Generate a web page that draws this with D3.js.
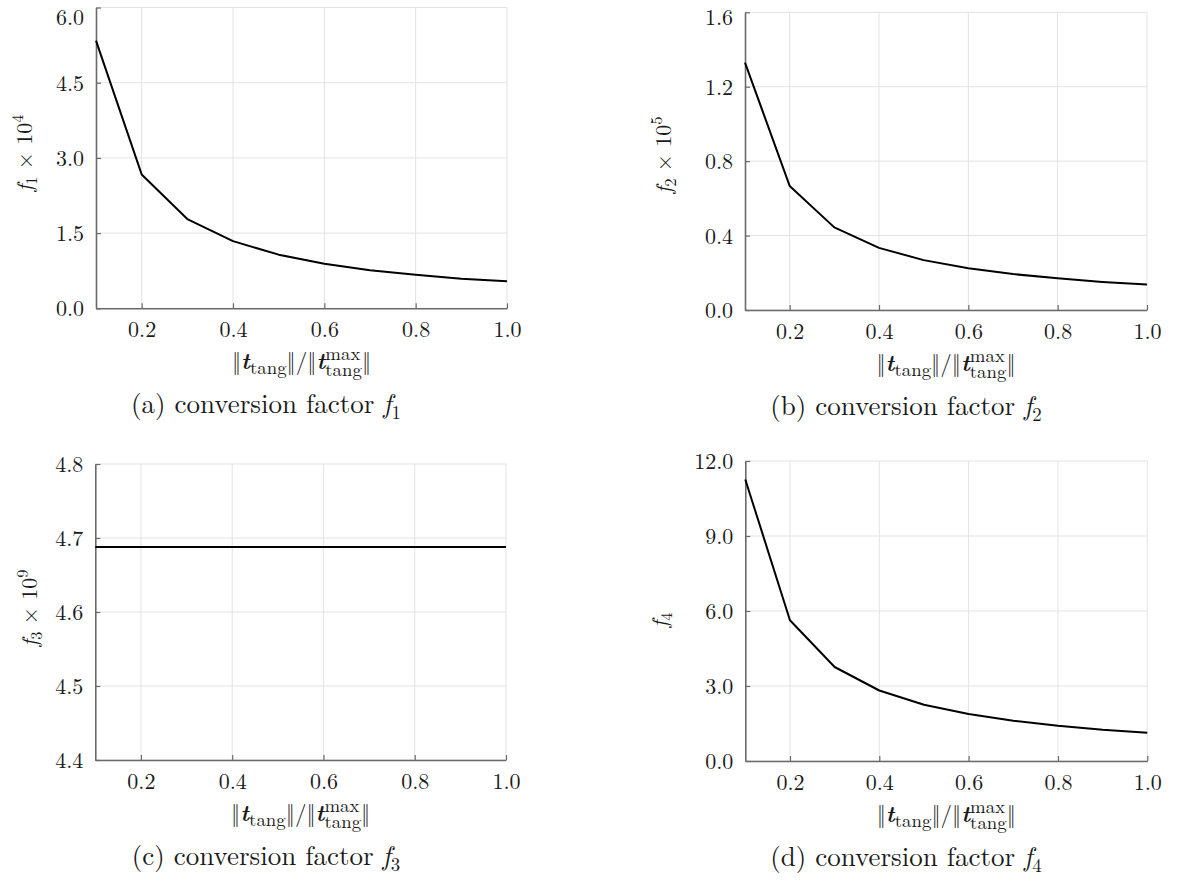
<!DOCTYPE html>
<html>
<head>
<meta charset="utf-8">
<script src="https://cdn.jsdelivr.net/npm/d3@7"></script>
<style>
  html, body { margin: 0; padding: 0; background: #fff; }
  svg { display: block; }
</style>
</head>
<body>
<svg id="fig" width="1177" height="884"></svg>
<script>
// Normalised tangential traction ||t_tang|| / ||t_tang^max||
const ratio = [0.1, 0.2, 0.3, 0.4, 0.5, 0.6, 0.7, 0.8, 0.9, 1.0];

// Conversion factors (already scaled as in the axis titles)
const f1 = [5.34, 2.67, 1.78, 1.34, 1.07, 0.89, 0.76, 0.67, 0.59, 0.54];          // f1 x 10^4
const f2 = [1.33, 0.667, 0.444, 0.334, 0.268, 0.224, 0.193, 0.170, 0.151, 0.137]; // f2 x 10^5
const f3 = [4.688, 4.688, 4.688, 4.688, 4.688, 4.688, 4.688, 4.688, 4.688, 4.688]; // f3 x 10^9
const f4 = [11.26, 5.63, 3.76, 2.82, 2.25, 1.88, 1.61, 1.41, 1.25, 1.13];

// Tick values
const xTicks = [0.2, 0.4, 0.6, 0.8, 1.0];
const yTicks1 = [0.0, 1.5, 3.0, 4.5, 6.0];
const yTicks2 = [0.0, 0.4, 0.8, 1.2, 1.6];
const yTicks3 = [4.4, 4.5, 4.6, 4.7, 4.8];
const yTicks4 = [0.0, 3.0, 6.0, 9.0, 12.0];

// Caption / axis-title pieces
const captionLetters = ["(a)", "(b)", "(c)", "(d)"];
const factorIndex = ["1", "2", "3", "4"];
const yExponents = ["4", "5", "9", null];

// Pick the first serif face that is actually installed
function pickFont(cands) {
  const ctx = document.createElement("canvas").getContext("2d");
  const sample = "mmmmllllii0123456789 conversion factor";
  const w = f => { ctx.font = "40px " + f; return ctx.measureText(sample).width; };
  for (const c of cands) {
    for (const base of ["monospace", "sans-serif"]) {
      if (Math.abs(w(`"${c}", ${base}`) - w(base)) > 0.5) return `"${c}"`;
    }
  }
  return "serif";
}
const SERIF = pickFont(["Latin Modern Roman", "CMU Serif", "Liberation Serif", "Tinos",
  "Times New Roman", "DejaVu Serif", "Noto Serif", "FreeSerif"]);

const svg = d3.select("#fig").style("font-family", SERIF);
const FONT_TICK = 22;
const FONT_XLABEL = 23;
const FONT_YLABEL = 22;
const FONT_CAPTION = 27;
const INK = "#1a1a1a";

// Draw a line of text built from pieces; kinds: r, i, bi, sub, sup, subsup
function mathText(parent, pieces, size, scriptRatio, attrs) {
  const t = parent.append("text").attr("font-size", size)
    .attr("font-family", SERIF).attr("fill", INK);
  Object.entries(attrs).forEach(([k, v]) => t.attr(k, v));
  let shift = 0;
  const small = size * scriptRatio;
  const moveTo = (target) => { const d = target - shift; shift = target; return d; };
  pieces.forEach(p => {
    const [txt, kind] = p;
    if (kind === "r" || kind === "i" || kind === "bi") {
      const s = t.append("tspan").text(txt).attr("dy", moveTo(0)).attr("font-size", size);
      if (kind !== "r") s.attr("font-style", "italic");
      if (kind === "bi") s.attr("font-weight", "bold");
    } else if (kind === "sub") {
      t.append("tspan").text(txt).attr("dy", moveTo(size * 0.22)).attr("font-size", small);
    } else if (kind === "sup") {
      t.append("tspan").text(txt).attr("dy", moveTo(-size * 0.42)).attr("font-size", small);
    } else if (kind === "subsup") {
      const [sup, sub] = txt;
      const a = t.append("tspan").text(sup).attr("dy", moveTo(-size * 0.40)).attr("font-size", small);
      const w = a.node().getComputedTextLength();
      t.append("tspan").text(sub).attr("dx", -w).attr("dy", moveTo(size * 0.30)).attr("font-size", small);
    }
  });
  return t;
}

const xLabelPieces = [
  ["\u2016", "r"], ["t", "bi"], ["tang", "sub"], ["\u2016/\u2016", "r"], ["t", "bi"],
  [["max", "tang"], "subsup"], ["\u2016", "r"]
];

const panels = [
  { values: f1, yTicks: yTicks1, x0: 96, x1: 507, y0: 7.5, y1: 308.3, capX: 266, yLab: [32, 153] },
  { values: f2, yTicks: yTicks2, x0: 745, x1: 1147, y0: 12.3, y1: 310, capX: 906, yLab: [671, 155] },
  { values: f3, yTicks: yTicks3, x0: 95.3, x1: 506, y0: 464, y1: 760, capX: 266, yLab: [37, 608] },
  { values: f4, yTicks: yTicks4, x0: 745.3, x1: 1147.3, y0: 461, y1: 761, capX: 906, yLab: [667, 620] }
];

panels.forEach((p, idx) => {
  const g = svg.append("g");
  const x = d3.scaleLinear().domain([0.1, 1.0]).range([p.x0, p.x1]);
  const y = d3.scaleLinear().domain([p.yTicks[0], p.yTicks[p.yTicks.length - 1]]).range([p.y1, p.y0]);

  // grid
  g.append("g").selectAll("line").data(xTicks).join("line")
    .attr("x1", d => x(d)).attr("x2", d => x(d)).attr("y1", p.y0).attr("y2", p.y1)
    .attr("stroke", "#e3e3e3").attr("stroke-width", 1);
  g.append("g").selectAll("line").data(p.yTicks).join("line")
    .attr("x1", p.x0).attr("x2", p.x1).attr("y1", d => y(d)).attr("y2", d => y(d))
    .attr("stroke", "#e3e3e3").attr("stroke-width", 1);

  // axes
  const xAxis = d3.axisBottom(x).tickValues(xTicks).tickSizeInner(-5).tickSizeOuter(0)
    .tickPadding(13).tickFormat(d3.format(".1f"));
  const yAxis = d3.axisLeft(y).tickValues(p.yTicks).tickSizeInner(-5).tickSizeOuter(0)
    .tickPadding(12).tickFormat(d3.format(".1f"));
  const gx = g.append("g").attr("transform", `translate(0,${p.y1})`).call(xAxis);
  const gy = g.append("g").attr("transform", `translate(${p.x0},0)`).call(yAxis);
  [gx, gy].forEach(a => {
    a.attr("font-family", SERIF).attr("font-size", FONT_TICK);
    a.select(".domain").attr("stroke", "#6a6a6a").attr("stroke-width", 1.6);
    a.selectAll(".tick line").attr("stroke", "#6a6a6a").attr("stroke-width", 1.2);
    a.selectAll(".tick text").attr("fill", INK);
  });
  gy.selectAll(".tick text").attr("dy", "0.34em");
  gx.selectAll(".tick text").attr("dy", "0.72em");
  // keep the topmost y label inside the page: baseline no higher than 24px
  gy.selectAll(".tick text").each(function (d) {
    const baseline = y(d) + 0.34 * FONT_TICK;
    if (baseline < 24) d3.select(this).attr("y", 24 - baseline);
  });

  // data curve
  const line = d3.line().x((d, i) => x(ratio[i])).y(d => y(d));
  g.append("path").datum(p.values).attr("d", line)
    .attr("fill", "none").attr("stroke", "#000").attr("stroke-width", 2)
    .attr("stroke-linejoin", "round");

  // x axis title
  mathText(g, xLabelPieces, FONT_XLABEL, 0.82, {
    x: (p.x0 + p.x1) / 2, y: p.y1 + 61, "text-anchor": "middle"
  });

  // y axis title
  const yPieces = [["f", "i"], [factorIndex[idx], "sub"]];
  if (yExponents[idx]) yPieces.push([" \u00D7 10", "r"], [yExponents[idx], "sup"]);
  mathText(g, yPieces, FONT_YLABEL, 0.75, {
    transform: `translate(${p.yLab[0]},${p.yLab[1]}) rotate(-90)`, "text-anchor": "middle"
  });

  // caption
  mathText(g, [[captionLetters[idx] + " conversion factor ", "r"], ["f", "i"], [factorIndex[idx], "sub"]],
    FONT_CAPTION, 0.7, { x: p.capX, y: p.y1 + 105, "text-anchor": "middle" });
});
</script>
</body>
</html>
